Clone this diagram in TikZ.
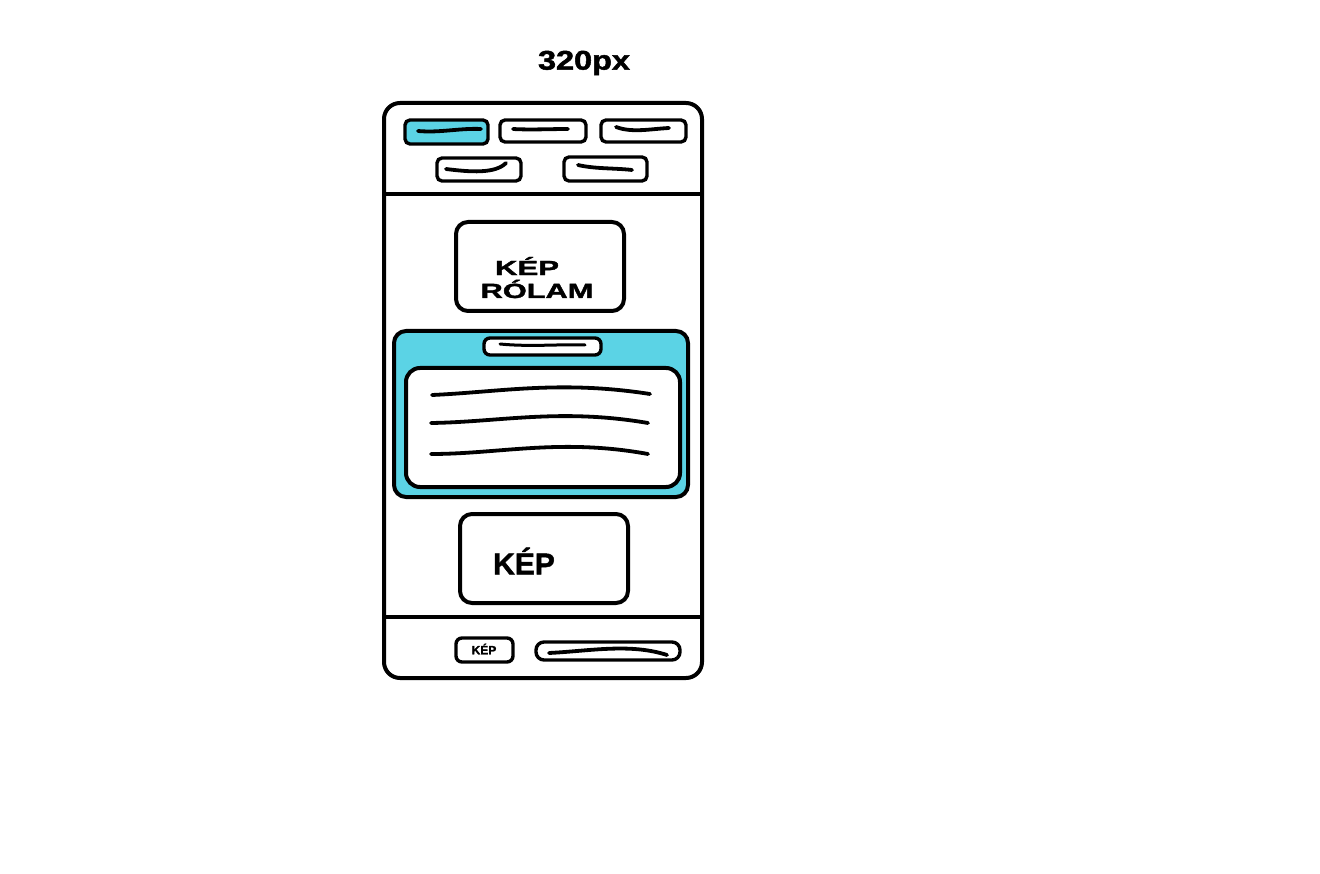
\documentclass[tikz,border=0pt]{standalone}
\usepackage{fontspec}
\setmainfont{Liberation Sans}
\newfontfamily\heavy[FakeBold=1.6]{Liberation Sans Bold}
\definecolor{skyblue}{RGB}{91,211,229}
\tikzset{
  box/.style={draw=black, line width=4pt, rounded corners=#1, inner sep=0pt, fill=white},
  box/.default=12pt,
  pill/.style={draw=black, line width=3.4pt, rounded corners=5pt, inner sep=0pt, fill=white},
  squig/.style={line width=3.8pt, line cap=round},
  lbl/.style={inner sep=0pt}
}
\begin{document}
\begin{tikzpicture}[x=1pt,y=-1pt]
\useasboundingbox (0,0) rectangle (1320,874);
% title
\node[lbl, font=\heavy\fontsize{27}{27}\selectfont, xscale=1.2] (title) at (584,63) {320px};
% phone frame
\node[box=16pt, minimum width=318pt, minimum height=575pt] (phone) at (543,390.5) {};
\coordinate (h1) at (384,194); \coordinate (h2) at (704,194);
\draw[line width=4pt] (h1) -- (h2);
\coordinate (f1) at (384,617); \coordinate (f2) at (702,617);
\draw[line width=4pt] (f1) -- (f2);
% nav buttons
\node[pill, fill=skyblue, minimum width=83pt, minimum height=24pt] (n1) at (446.5,132) {};
\node[pill, minimum width=86pt, minimum height=22pt] (n2) at (543,131) {};
\node[pill, minimum width=85pt, minimum height=22pt] (n3) at (643.5,131) {};
\node[pill, minimum width=84pt, minimum height=23pt] (n4) at (479,169.5) {};
\node[pill, minimum width=83pt, minimum height=24pt] (n5) at (605.5,169) {};
\draw[squig] (418,131) .. controls (440,133) and (460,128) .. (481,129);
\draw[squig] (513,129) .. controls (530,130) and (550,129) .. (568,129);
\draw[squig] (616,127) .. controls (632,133) and (650,129) .. (669,128);
\draw[squig] (446,169) .. controls (470,172) and (495,174) .. (506,163);
\draw[squig] (578,165) .. controls (595,169) and (615,168) .. (632,170);
% about image box
\node[box=12pt, minimum width=168pt, minimum height=89pt] (about) at (540,266.5) {};
\node[lbl, font=\heavy\fontsize{20.5}{20.5}\selectfont, xscale=1.52] (kep1) at (527,266) {KÉP};
\node[lbl, font=\heavy\fontsize{20.5}{20.5}\selectfont, xscale=1.5] (rolam) at (537,289) {RÓLAM};
% blue section
\node[box=12pt, fill=skyblue, minimum width=294pt, minimum height=166pt] (blue) at (541,414) {};
\node[pill, minimum width=117pt, minimum height=17pt, rounded corners=6pt] (bpill) at (542.5,346.5) {};
\draw[squig, line width=3pt] (500,344) .. controls (530,347) and (560,344) .. (585,345);
\node[box=14pt, minimum width=274pt, minimum height=119pt] (text) at (543,427.5) {};
\draw[squig] (432,395) .. controls (500,392) and (560,380) .. (650,394);
\draw[squig] (431,423) .. controls (500,422) and (560,408) .. (648,423);
\draw[squig] (431,454) .. controls (500,454) and (560,438) .. (648,454);
% lower image box
\node[box=12pt, minimum width=168pt, minimum height=89pt] (img) at (544,558.5) {};
\node[lbl, font=\heavy\fontsize{30}{30}\selectfont] (kep2) at (524,561) {KÉP};
% footer
\node[pill, minimum width=57pt, minimum height=24pt, rounded corners=6pt] (fimg) at (484.5,650) {};
\node[lbl, font=\heavy\fontsize{12}{12}\selectfont] (kep3) at (484,649) {KÉP};
\node[pill, minimum width=144pt, minimum height=18pt, rounded corners=8pt] (fpill) at (608,651) {};
\draw[squig] (549,653) .. controls (590,651) and (630,643) .. (667,655);
\end{tikzpicture}
\end{document}
